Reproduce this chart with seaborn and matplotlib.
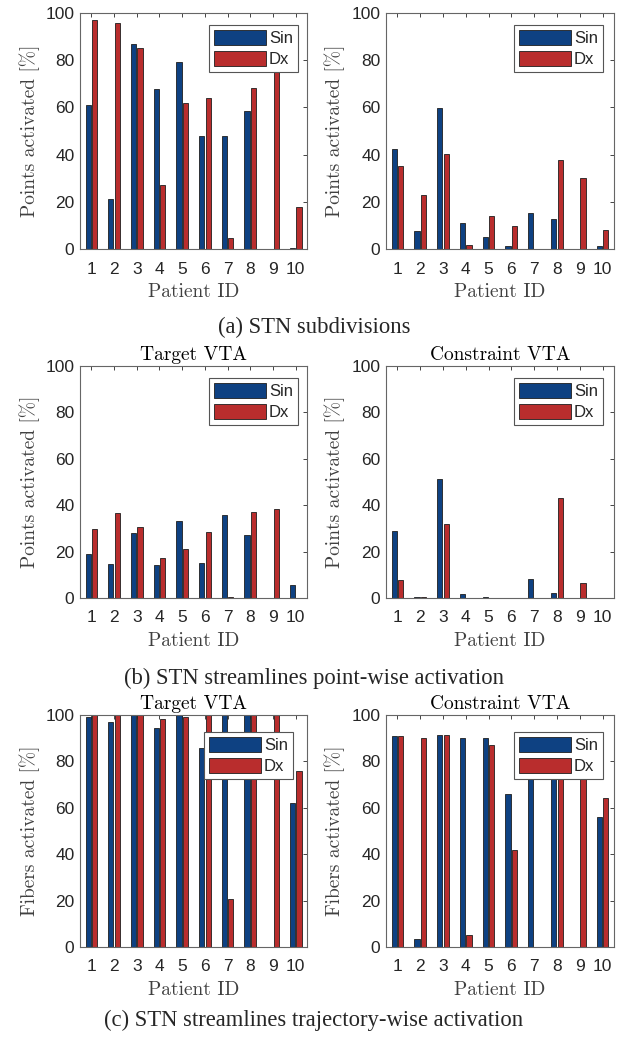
import numpy as np
import pandas as pd
import matplotlib.pyplot as plt
import seaborn as sns

patients = [str(i) for i in range(1, 11)]

# (a) STN subdivisions
sub_left_sin = [61.2, 21.2, 87.0, 68.0, 79.4, 48.0, 47.7, 58.6, 0.0, 0.4]
sub_left_dx = [97.2, 95.8, 85.2, 27.0, 62.0, 64.0, 4.7, 68.4, 80.0, 17.9]
sub_right_sin = [42.5, 7.8, 59.6, 11.2, 5.2, 1.3, 15.3, 12.9, 0.0, 1.3]
sub_right_dx = [35.3, 23.0, 40.4, 1.8, 14.0, 9.9, 0.0, 37.7, 30.1, 7.9]

# (b) point-wise activation
pts_target_sin = [19.1, 14.6, 28.1, 14.1, 33.1, 15.1, 35.7, 27.3, 0.0, 5.7]
pts_target_dx = [29.7, 36.7, 30.8, 17.1, 21.2, 28.4, 0.4, 37.0, 38.5, 0.1]
pts_constr_sin = [29.0, 0.4, 51.4, 1.9, 0.3, 0.0, 8.3, 2.0, 0.0, 0.1]
pts_constr_dx = [7.7, 0.4, 31.9, 0.0, 0.0, 0.0, 0.0, 43.0, 6.6, 0.1]

# (c) trajectory-wise activation
fib_target_sin = [99.3, 97.0, 100.0, 94.4, 100.0, 85.7, 100.0, 100.0, 0.0, 62.1]
fib_target_dx = [100.0, 100.0, 100.0, 98.3, 99.3, 100.0, 20.8, 100.0, 100.0, 75.8]
fib_constr_sin = [91.0, 3.4, 91.2, 90.1, 90.1, 65.9, 88.0, 85.0, 0.0, 56.0]
fib_constr_dx = [90.8, 90.1, 91.2, 5.3, 87.2, 41.6, 0.0, 86.0, 84.0, 64.3]

blue = '#0e4182'
red = '#b92d2d'

sns.set_style('white')
plt.rcParams['font.family'] = ['Liberation Sans', 'DejaVu Sans']

fig = plt.figure(figsize=(6.28, 10.38), dpi=100)

panels = [
    (sub_left_sin, sub_left_dx, None, 'Points activated [%]', [0.1274, 0.7601, 0.3615, 0.2274], (0.96, 0.949)),
    (sub_right_sin, sub_right_dx, None, 'Points activated [%]', [0.6146, 0.7601, 0.363, 0.2274], (0.952, 0.949)),
    (pts_target_sin, pts_target_dx, 'Target VTA', 'Points activated [%]', [0.1274, 0.4239, 0.3615, 0.2235], (0.96, 0.948)),
    (pts_constr_sin, pts_constr_dx, 'Constraint VTA', 'Points activated [%]', [0.6146, 0.4239, 0.363, 0.2235], (0.952, 0.948)),
    (fib_target_sin, fib_target_dx, 'Target VTA', 'Fibers activated [%]', [0.1274, 0.0877, 0.3615, 0.2235], (0.938, 0.927)),
    (fib_constr_sin, fib_constr_dx, 'Constraint VTA', 'Fibers activated [%]', [0.6146, 0.0877, 0.363, 0.2235], (0.952, 0.927)),
]

for sin, dx, title, ylabel, rect, anchor in panels:
    ax = fig.add_axes(rect)
    df = pd.DataFrame({
        'Patient ID': patients * 2,
        'value': sin + dx,
        'side': ['Sin'] * 10 + ['Dx'] * 10,
    })
    sns.barplot(data=df, x='Patient ID', y='value', hue='side', order=patients,
                hue_order=['Sin', 'Dx'], palette=[blue, red], saturation=1,
                width=0.571, gap=0.2, edgecolor='#1e1e1e', linewidth=0.6,
                errorbar=None, legend=False, ax=ax)
    ax.set_xlim(-0.5, 9.5)
    ax.set_ylim(0, 100)
    ax.set_yticks(range(0, 101, 20))
    ax.tick_params(direction='in', length=3, width=0.6, top=True, right=True,
                   labelsize=12.5, labelcolor='#262626', color='#262626')
    ax.tick_params(axis='x', pad=9)
    ax.tick_params(axis='y', pad=4)
    for s in ax.spines.values():
        s.set_color('#666666')
        s.set_linewidth(0.8)
    ax.set_xlabel('Patient ID', fontfamily='cmr10', fontsize=14, color='#404040')
    ax.set_ylabel(ylabel, fontfamily='cmr10', fontsize=14, color='#404040')
    ax.yaxis.set_label_coords(-0.178, 0.5)
    ax.xaxis.set_label_coords(0.5, -0.145)
    if title:
        ax.set_title(title, fontfamily='cmr10', fontsize=14, pad=4, color='black')
    leg = ax.legend(ax.containers, ['Sin', 'Dx'], loc='upper right', bbox_to_anchor=anchor,
                    borderaxespad=0, fontsize=12, handlelength=3.1, handleheight=1.0,
                    handletextpad=0.2, labelspacing=0.3, borderpad=0.3,
                    fancybox=False, framealpha=1, edgecolor='#555555')
    leg.get_frame().set_linewidth(0.8)

fig.text(0.5, 1 - 327 / 1038, '(a) STN subdivisions', ha='center', va='center',
         fontfamily='Liberation Serif', fontsize=16.3)
fig.text(0.5, 1 - 678 / 1038, '(b) STN streamlines point-wise activation', ha='center', va='center',
         fontfamily='Liberation Serif', fontsize=16.3)
fig.text(0.5, 1 - 1020 / 1038, '(c) STN streamlines trajectory-wise activation', ha='center', va='center',
         fontfamily='Liberation Serif', fontsize=16.3)

fig.savefig('out.png', dpi=100)
